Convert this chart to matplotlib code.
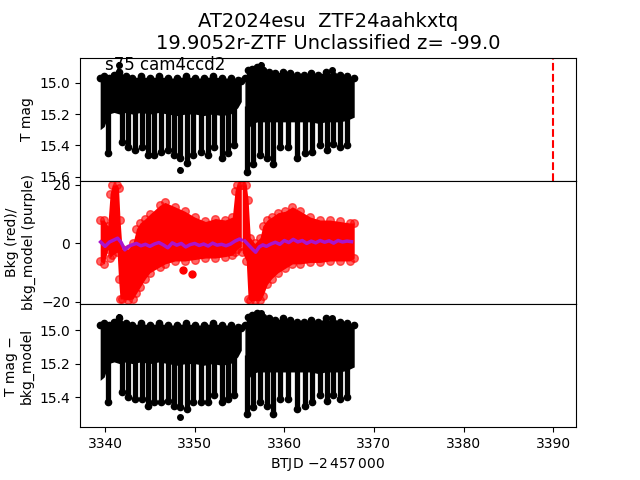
import matplotlib.pyplot as plt

title = "AT2024esu  ZTF24aahkxtq\n19.9052r-ZTF Unclassified z= -99.0"
sector_label = "s75 cam4ccd2"
t_alert = 3390.0

# dense part of the light curve (upper / lower edge), one list per orbit
band_t1 = [3339.45, 3339.9, 3340.4, 3341.0, 3341.6, 3342.3, 3343.0, 3344.0, 3345.0, 3346.0,
           3347.0, 3348.0, 3349.0, 3350.0, 3351.0, 3352.0, 3353.0, 3354.0, 3354.8, 3355.2]
band_hi1 = [14.97, 14.96, 14.97, 14.95, 14.93, 14.96, 14.97, 14.96, 14.97, 14.96,
            14.97, 14.97, 14.96, 14.97, 14.97, 14.96, 14.97, 14.97, 14.98, 14.99]
band_lo1 = [15.30, 15.28, 15.20, 15.19, 15.20, 15.19, 15.20, 15.19, 15.20, 15.19,
            15.20, 15.21, 15.20, 15.20, 15.21, 15.20, 15.21, 15.20, 15.16, 15.12]
band_t2 = [3355.6, 3355.9, 3356.4, 3357.0, 3357.6, 3358.3, 3359.0, 3359.8, 3360.6, 3361.4,
           3362.2, 3363.0, 3363.8, 3364.6, 3365.4, 3366.2, 3367.0, 3367.8]
band_hi2 = [14.97, 14.92, 14.91, 14.90, 14.92, 14.93, 14.94, 14.93, 14.94, 14.95,
            14.95, 14.94, 14.95, 14.93, 14.95, 14.95, 14.96, 14.97]
band_lo2 = [15.20, 15.30, 15.26, 15.25, 15.25, 15.25, 15.25, 15.25, 15.25, 15.25,
            15.25, 15.25, 15.26, 15.25, 15.25, 15.25, 15.24, 15.22]

# faint dips below the band
dip_t = [3340.33, 3341.86, 3342.60, 3343.35, 3344.10, 3344.77, 3345.50, 3346.25, 3347.00,
         3347.67, 3348.37, 3349.12, 3349.85, 3350.71, 3351.46, 3352.20, 3353.02, 3353.69,
         3354.43, 3355.81, 3356.55, 3357.30, 3358.05, 3358.78, 3359.53, 3360.46, 3361.40,
         3362.32, 3363.14, 3364.00, 3364.74, 3365.48, 3366.23, 3366.98]
dip_mag = [15.45, 15.38, 15.41, 15.43, 15.41, 15.46, 15.46, 15.44, 15.43,
           15.46, 15.48, 15.51, 15.46, 15.44, 15.46, 15.41, 15.48, 15.45,
           15.40, 15.57, 15.52, 15.46, 15.48, 15.52, 15.41, 15.41, 15.48,
           15.45, 15.44, 15.40, 15.43, 15.39, 15.41, 15.40]
dip_mag_det = [15.43, 15.37, 15.40, 15.41, 15.41, 15.45, 15.43, 15.43, 15.42,
               15.45, 15.46, 15.47, 15.43, 15.43, 15.43, 15.39, 15.43, 15.41,
               15.39, 15.50, 15.46, 15.43, 15.45, 15.50, 15.41, 15.41, 15.47,
               15.45, 15.43, 15.39, 15.42, 15.39, 15.41, 15.40]
out_t = [3341.5, 3348.37, 3357.4, 3365.3]
out_mag = [14.885, 15.555, 14.885, 14.92]
out_mag_det = [14.92, 15.52, 14.90, 14.93]

# background flux (red), edges per orbit
bkg_t1 = [3339.45, 3339.9, 3340.3, 3340.56, 3340.8, 3341.34, 3341.5, 3341.67, 3341.9, 3342.57,
          3343.1, 3343.5, 3343.9, 3344.5, 3345.0, 3346.1, 3346.7, 3347.8, 3348.9, 3350.0,
          3351.2, 3352.3, 3353.4, 3354.2, 3354.5, 3354.7, 3355.2]
bkg_hi1 = [8, 8, 6, 17, 20, 20, 19, 8, -2, -2,
           0, 5, 7, 8.5, 10, 13, 14, 12.5, 11, 9,
           7.5, 8.5, 8, 9, 18, 20, 20]
bkg_lo1 = [-6, -7, -2, -5, -4, -3, -12, -19, -19, -19.3,
           -19, -17, -15, -12, -10, -8, -7, -6, -6, -5.5,
           -5, -5, -4.5, -4, -3, -2, -1]
bkg_t2 = [3355.3, 3355.75, 3355.96, 3356.2, 3356.7, 3357.3, 3357.6, 3358.1, 3358.6, 3359.3,
          3360.1, 3360.9, 3361.8, 3362.9, 3364.0, 3365.1, 3366.2, 3367.3, 3367.8]
bkg_hi2 = [20, 20, 15, 2, 0, 2, 6, 8, 9, 10.5,
           11, 12.5, 11, 9, 8, 8, 7.5, 7, 7]
bkg_lo2 = [-3, -6, -19, -19.5, -19.5, -19.5, -18, -14, -12, -10,
           -8.5, -7, -7, -6.5, -6.5, -6, -6, -6, -5]
bkg_out_t = [3348.7, 3349.7]
bkg_out = [-9.2, -10.3]

# background model (purple)
model_t1 = [3339.5, 3340.0, 3340.5, 3341.0, 3341.4, 3341.8, 3342.2, 3342.6, 3343.0, 3343.5,
            3344.0, 3344.5, 3345.0, 3345.5, 3346.0, 3346.5, 3347.0, 3347.5, 3348.0, 3348.5,
            3349.0, 3349.5, 3350.0, 3350.5, 3351.0, 3351.5, 3352.0, 3352.5, 3353.0, 3353.5,
            3354.0, 3354.5, 3355.0, 3355.2]
model1 = [0.5, -1.0, 0.5, 1.2, 1.8, 0.3, -2.2, -1.0, -0.5, 0.0,
          -0.8, -0.3, -1.0, -0.2, 0.3, -0.5, -1.5, 0.2, -0.6, 0.0,
          -1.2, -0.4, 0.0, -0.7, -0.2, -0.9, 0.1, -0.6, -0.3, -0.8,
          -0.2, 0.8, 1.5, 1.2]
model_t2 = [3355.6, 3356.0, 3356.4, 3356.8, 3357.2, 3357.6, 3358.0, 3358.5, 3359.0, 3359.5,
            3360.0, 3360.5, 3361.0, 3361.5, 3362.0, 3362.5, 3363.0, 3363.5, 3364.0, 3364.5,
            3365.0, 3365.5, 3366.0, 3366.5, 3367.0, 3367.5]
model2 = [0.8, -0.5, -1.8, -3.0, -1.2, -0.5, -1.0, -0.2, 0.4, -0.3,
          1.0, 0.3, 1.4, 0.5, 1.0, 0.0, 0.8, 0.2, 1.0, 0.4,
          0.9, 0.1, 1.0, 0.5, 0.8, 0.6]


def draw_lc(ax, dmag, omag):
    for t, hi, lo in [(band_t1, band_hi1, band_lo1), (band_t2, band_hi2, band_lo2)]:
        ax.fill_between(t, hi, lo, color='k', lw=0)
        ax.plot(t, hi, 'o', color='k', ms=4.5)
    ax.vlines(dip_t, 15.15, dmag, color='k', lw=3.8)
    ax.errorbar(dip_t, dmag, yerr=0.015, fmt='o', color='k', ms=4.5)
    ax.errorbar(out_t, omag, yerr=0.015, fmt='o', color='k', ms=4)


fig, axs = plt.subplots(3, 1, sharex=True)
plt.subplots_adjust(hspace=0)

ax = axs[0]
draw_lc(ax, dip_mag, out_mag)
ax.axvline(t_alert, color='r', ls='--', lw=1.5)
ax.set_ylim(15.626, 14.84)
ax.set_yticks([15.0, 15.2, 15.4, 15.6])
ax.set_ylabel("T mag")
ax.set_title(title, fontsize=14)
ax.text(0.05, 0.9, sector_label, transform=ax.transAxes, fontsize=12)

ax = axs[1]
for t, hi, lo in [(bkg_t1, bkg_hi1, bkg_lo1), (bkg_t2, bkg_hi2, bkg_lo2)]:
    ax.fill_between(t, hi, lo, color='r', lw=0)
    ax.plot(t, hi, 'o', color='r', ms=5.5, alpha=0.6)
    ax.plot(t, lo, 'o', color='r', ms=5.5, alpha=0.6)
ax.plot(bkg_out_t, bkg_out, 'o', color='r', ms=5)
ax.plot(model_t1, model1, color='#aa14cc', lw=2.5)
ax.plot(model_t2, model2, color='#aa14cc', lw=2.5)
ax.set_ylim(-20.7, 21.4)
ax.set_yticks([-20, 0, 20])
ax.set_ylabel("Bkg (red)/\nbkg_model (purple)")

ax = axs[2]
draw_lc(ax, dip_mag_det, out_mag_det)
ax.set_ylim(15.579, 14.845)
ax.set_yticks([15.0, 15.2, 15.4])
ax.set_ylabel("T mag \u2212\nbkg_model")
ax.set_xlabel("BTJD $-2\\,457\\,000$")
ax.set_xlim(3337.2, 3392.55)
ax.set_xticks([3340, 3350, 3360, 3370, 3380, 3390])

plt.savefig("out.png", dpi=100)
